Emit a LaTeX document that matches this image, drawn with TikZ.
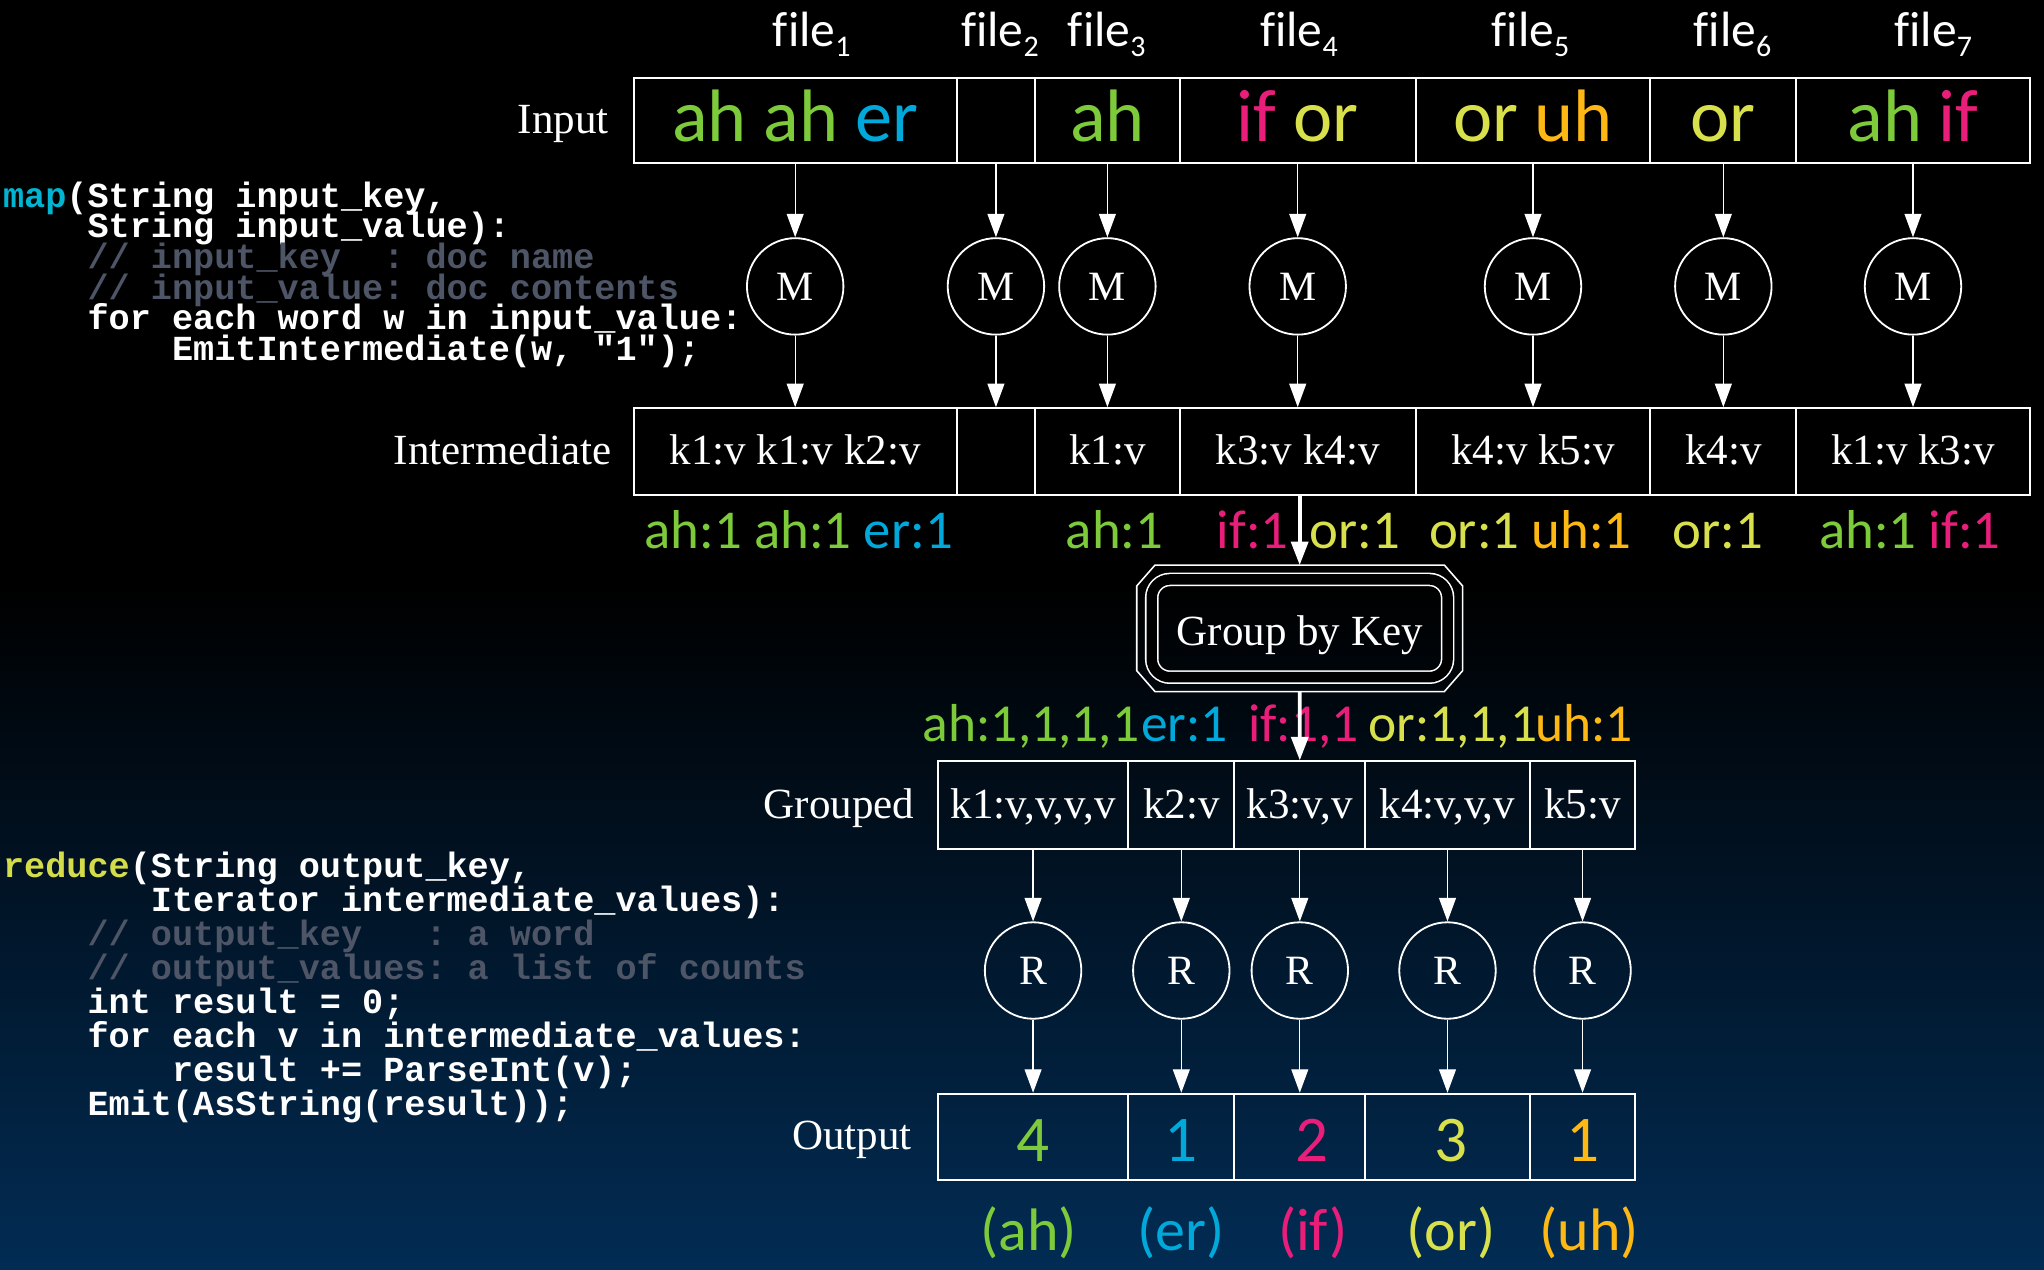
\documentclass[tikz,border=0pt]{standalone}
\usepackage{fontspec}
\setmainfont{Liberation Serif}
\setmonofont{Liberation Mono}
\newfontfamily\wordfont{Carlito}[Ligatures=NoCommon]
\usetikzlibrary{positioning,arrows.meta}

\definecolor{ahgreen}{RGB}{125,203,58}
\definecolor{ercyan}{RGB}{0,169,218}
\definecolor{ifpink}{RGB}{233,30,123}
\definecolor{oryellow}{RGB}{216,225,76}
\definecolor{uhorange}{RGB}{253,184,19}
\definecolor{mapcyan}{RGB}{0,180,210}
\definecolor{reduceyellow}{RGB}{212,220,74}
\definecolor{commentgrey}{RGB}{77,85,102}
\definecolor{bgnavy}{RGB}{2,44,84}

\pgfdeclareverticalshading{slidebg}{100bp}{color(0bp)=(bgnavy); color(25bp)=(bgnavy); color(52bp)=(black); color(100bp)=(black)}

\newcommand{\wah}[1]{{\color{ahgreen}#1}}
\newcommand{\wer}[1]{{\color{ercyan}#1}}
\newcommand{\wif}[1]{{\color{ifpink}#1}}
\newcommand{\wor}[1]{{\color{oryellow}#1}}
\newcommand{\wuh}[1]{{\color{uhorange}#1}}
\newcommand{\fsub}[1]{\raisebox{-3.9pt}{\fontsize{11.5}{12}\selectfont #1}}

\tikzset{cell/.style={draw=white, line width=0.75pt, inner sep=0pt, text=white,
  font=\fontsize{16.5}{18}\selectfont}}
\tikzset{inputcell/.style={cell, minimum height=32.5pt, text height=17pt, text depth=0.8pt,
  font=\wordfont\fontsize{28.5}{30}\selectfont}}
\tikzset{midcell/.style={cell, minimum height=33.25pt, text height=11.5pt, text depth=1.1pt}}
\tikzset{groupcell/.style={cell, minimum height=33.5pt, text height=11.5pt, text depth=1.4pt}}
\tikzset{outcell/.style={cell, minimum height=33pt, text height=19pt, text depth=0pt,
  font=\wordfont\fontsize{25}{26}\selectfont}}
\tikzset{worker/.style={circle, draw=white, line width=0.7pt, inner sep=0pt,
  minimum size=37pt, text=white, font=\fontsize{16}{17}\selectfont}}
\tikzset{rowname/.style={text=white, inner sep=0pt, text height=11.5pt, text depth=1.5pt,
  font=\fontsize{16.5}{18}\selectfont}}
\tikzset{filename/.style={text=white, inner sep=0pt, anchor=base,
  font=\wordfont\fontsize{19}{20}\selectfont}}
\tikzset{pairs/.style={inner sep=0pt, anchor=base, font=\wordfont\fontsize{21}{22}\selectfont}}
\tikzset{lists/.style={pairs, font=\wordfont\fontsize{20.5}{22}\selectfont}}
\tikzset{counts/.style={inner sep=0pt, anchor=base, font=\wordfont\fontsize{23}{24}\selectfont}}
\tikzset{codeline/.style={text=white, inner sep=0pt, anchor=base west,
  font=\ttfamily\bfseries\fontsize{13.5}{14}\selectfont}}
\tikzset{codenote/.style={codeline, text=commentgrey}}
\tikzset{flow/.style={draw=white, line width=0.5pt, -{Triangle[width=6.5pt,length=9pt]}}}
\tikzset{bigflow/.style={flow, line width=1.4pt}}

\begin{document}
\begin{tikzpicture}[x=0.5pt, y=-0.5pt]

\useasboundingbox (0,0) rectangle (1568,974);
\shade[shading=slidebg] (0,0) rectangle (1568,974);

% map code
\node (map1) [codeline] at (2,159) {\textcolor{mapcyan}{map}(String input\_key,};
\node (map2) [codeline] at (2,182.5) {~~~~String input\_value):};
\node (map3) [codenote] at (2,206) {~~~~// input\_key~~: doc name};
\node (map4) [codenote] at (2,229.5) {~~~~// input\_value: doc contents};
\node (map5) [codeline] at (2,253) {~~~~for each word w in input\_value:};
\node (map6) [codeline] at (2,276.5) {~~~~~~~~EmitIntermediate(w, "1");};

% reduce code
\node (red1) [codeline] at (2,673) {\textcolor{reduceyellow}{reduce}(String output\_key,};
\node (red2) [codeline] at (2,699.1) {~~~~~~~Iterator intermediate\_values):};
\node (red3) [codenote] at (2,725.2) {~~~~// output\_key~~~: a word};
\node (red4) [codenote] at (2,751.3) {~~~~// output\_values: a list of counts};
\node (red5) [codeline] at (2,777.4) {~~~~int result = 0;};
\node (red6) [codeline] at (2,803.5) {~~~~for each v in intermediate\_values:};
\node (red7) [codeline] at (2,829.6) {~~~~~~~~result += ParseInt(v);};
\node (red8) [codeline] at (2,855.7) {~~~~Emit(AsString(result));};

% file names
\node (file1) [filename] at (622.7,35.8) {file\fsub{1}};
\node (file2) [filename] at (767,35.8) {file\fsub{2}};
\node (file3) [filename] at (849,35.8) {file\fsub{3}};
\node (file4) [filename] at (996.5,35.8) {file\fsub{4}};
\node (file5) [filename] at (1174,35.8) {file\fsub{5}};
\node (file6) [filename] at (1329,35.8) {file\fsub{6}};
\node (file7) [filename] at (1483,35.8) {file\fsub{7}};

% input row
\node (in1) [inputcell, minimum width=124pt] at (610,92.5) {\wah{ah ah} \wer{er}};
\node (in2) [inputcell, minimum width=30pt] at (764,92.5) {};
\node (in3) [inputcell, minimum width=55.5pt] at (849.5,92.5) {\wah{ah}};
\node (in4) [inputcell, minimum width=90.5pt] at (995.5,92.5) {\wif{if} \wor{or}};
\node (in5) [inputcell, minimum width=90pt] at (1176,92.5) {\wor{or} \wuh{uh}};
\node (in6) [inputcell, minimum width=56pt] at (1322,92.5) {\wor{or}};
\node (in7) [inputcell, minimum width=89.5pt] at (1467.5,92.5) {\wah{ah} \wif{if}};
\node (inputname) [rowname, left=9pt of in1] {Input};

% mappers
\node (m1) [worker] at (610,219.7) {M};
\node (m2) [worker] at (764,219.7) {M};
\node (m3) [worker] at (849.5,219.7) {M};
\node (m4) [worker] at (995.5,219.7) {M};
\node (m5) [worker] at (1176,219.7) {M};
\node (m6) [worker] at (1322,219.7) {M};
\node (m7) [worker] at (1467.5,219.7) {M};

% intermediate row
\node (im1) [midcell, minimum width=124pt] at (610,346.3) {k1:v k1:v k2:v};
\node (im2) [midcell, minimum width=30pt] at (764,346.3) {};
\node (im3) [midcell, minimum width=55.5pt] at (849.5,346.3) {k1:v};
\node (im4) [midcell, minimum width=90.5pt] at (995.5,346.3) {k3:v k4:v};
\node (im5) [midcell, minimum width=90pt] at (1176,346.3) {k4:v k5:v};
\node (im6) [midcell, minimum width=56pt] at (1322,346.3) {k4:v};
\node (im7) [midcell, minimum width=89.5pt] at (1467.5,346.3) {k1:v k3:v};
\node (midname) [rowname, left=8pt of im1] {Intermediate};

\node (pair1) [pairs] at (612.6,420.6) {\wah{ah:1 ah:1} \wer{er:1}};
\node (pair3) [pairs] at (855,420.6) {\wah{ah:1}};
\node (pair4a) [pairs] at (961,420.6) {\wif{if:1}};
\node (pair4b) [pairs] at (1039.5,420.6) {\wor{or:1}};
\node (pair5) [pairs] at (1174,420.6) {\wor{or:1} \wuh{uh:1}};
\node (pair6) [pairs] at (1318,420.6) {\wor{or:1}};
\node (pair7) [pairs] at (1465,420.6) {\wah{ah:1} \wif{if:1}};

% group by key
\node (grp) [draw=white, line width=0.6pt, double=black, double distance=4pt,
  rounded corners=7pt, minimum width=113.5pt, minimum height=37.5pt,
  inner sep=0pt, text height=13.5pt, text depth=0.7pt, text=white,
  font=\fontsize{16.5}{18}\selectfont] at (997,482) {Group by Key};
\node (grpframe) [minimum width=125pt, minimum height=48.5pt, inner sep=0pt,
  outer sep=0pt] at (grp.center) {};
\draw[white, line width=0.6pt] ([xshift=7pt]grpframe.north west)
  -- ([xshift=-7pt]grpframe.north east) -- ([yshift=-8pt]grpframe.north east)
  -- ([yshift=8pt]grpframe.south east) -- ([xshift=-7pt]grpframe.south east)
  -- ([xshift=7pt]grpframe.south west) -- ([yshift=8pt]grpframe.south west)
  -- ([yshift=-8pt]grpframe.north west) -- cycle;

\node (list1) [lists] at (791,569) {\wah{ah:1,1,1,1}};
\node (list2) [lists] at (908.7,569) {\wer{er:1}};
\node (list3) [lists] at (1000,569) {\wif{if:1,1}};
\node (list4) [lists] at (1114.4,569) {\wor{or:1,1,1}};
\node (list5) [lists] at (1215,569) {\wuh{uh:1}};

% grouped row
\node (gr1) [groupcell, minimum width=73pt] at (792.5,617.5) {k1:v,v,v,v};
\node (gr2) [groupcell, minimum width=40.6pt] at (906.2,617.5) {k2:v};
\node (gr3) [groupcell, minimum width=50.35pt] at (997.1,617.5) {k3:v,v};
\node (gr4) [groupcell, minimum width=62.95pt] at (1110.4,617.5) {k4:v,v,v};
\node (gr5) [groupcell, minimum width=40.55pt] at (1214,617.5) {k5:v};
\node (groupname) [rowname, left=8.5pt of gr1] {Grouped};

% reducers
\node (r1) [worker] at (792.5,744.5) {R};
\node (r2) [worker] at (906.2,744.5) {R};
\node (r3) [worker] at (997.1,744.5) {R};
\node (r4) [worker] at (1110.4,744.5) {R};
\node (r5) [worker] at (1214,744.5) {R};

% output row
\node (out1) [outcell, minimum width=73pt] at (792.5,872) {\wah{4}};
\node (out2) [outcell, minimum width=40.6pt] at (906.2,872) {\wer{1}};
\node (out3) [outcell, minimum width=50.35pt] at (997.1,872) {\hspace{9pt}\wif{2}};
\node (out4) [outcell, minimum width=62.95pt] at (1110.4,872) {\hspace{3pt}\wor{3}};
\node (out5) [outcell, minimum width=40.55pt] at (1214,872) {\wuh{1}};
\node (outname) [rowname, left=9.5pt of out1] {Output};

\node (word1) [counts] at (789,959) {\wah{(ah)}};
\node (word2) [counts] at (906,959) {\wer{(er)}};
\node (word3) [counts] at (1007,959) {\wif{(if)}};
\node (word4) [counts] at (1113,959) {\wor{(or)}};
\node (word5) [counts] at (1219,959) {\wuh{(uh)}};

% arrows
\draw[flow] (in1.south) -- (m1.north);
\draw[flow] (in2.south) -- (m2.north);
\draw[flow] (in3.south) -- (m3.north);
\draw[flow] (in4.south) -- (m4.north);
\draw[flow] (in5.south) -- (m5.north);
\draw[flow] (in6.south) -- (m6.north);
\draw[flow] (in7.south) -- (m7.north);
\draw[flow] (m1.south) -- (im1.north);
\draw[flow] (m2.south) -- (im2.north);
\draw[flow] (m3.south) -- (im3.north);
\draw[flow] (m4.south) -- (im4.north);
\draw[flow] (m5.south) -- (im5.north);
\draw[flow] (m6.south) -- (im6.north);
\draw[flow] (m7.south) -- (im7.north);

\draw[bigflow] (grpframe.north |- im4.south) -- (grpframe.north);
\draw[bigflow] (grpframe.south) -- (gr3.north);

\draw[flow] (gr1.south) -- (r1.north);
\draw[flow] (gr2.south) -- (r2.north);
\draw[flow] (gr3.south) -- (r3.north);
\draw[flow] (gr4.south) -- (r4.north);
\draw[flow] (gr5.south) -- (r5.north);
\draw[flow] (r1.south) -- (out1.north);
\draw[flow] (r2.south) -- (out2.north);
\draw[flow] (r3.south) -- (out3.north);
\draw[flow] (r4.south) -- (out4.north);
\draw[flow] (r5.south) -- (out5.north);

\end{tikzpicture}
\end{document}
